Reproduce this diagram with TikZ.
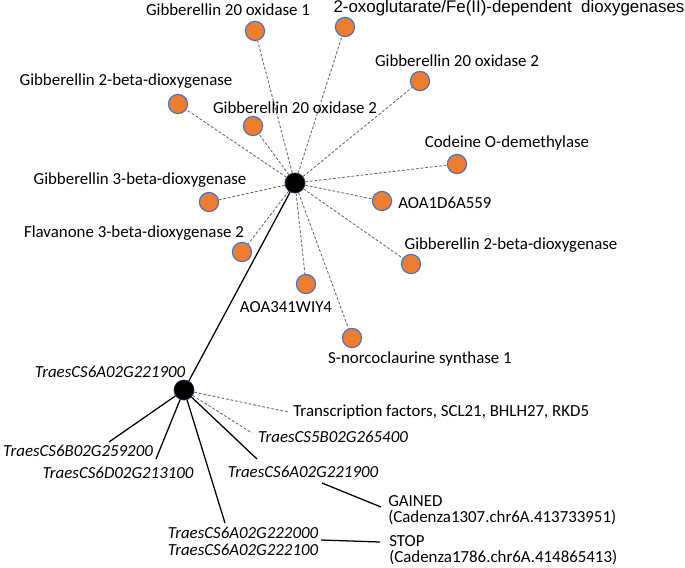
\documentclass[tikz,border=0pt]{standalone}
\usepackage{fontspec}
\setmainfont{Carlito}
\newfontfamily\arialfont{Liberation Sans}
\usepackage{tikz}
\usetikzlibrary{positioning}
\usepackage{xcolor}
\definecolor{dotorange}{HTML}{ED7D31}
\definecolor{dotblue}{HTML}{4472C4}
\tikzset{
  orangedot/.style={circle, fill=dotorange, draw=dotblue, line width=0.8pt, minimum size=0.48cm, inner sep=0pt},
  hubdot/.style={circle, fill=black, draw=dotblue!40!black, line width=0.5pt, minimum size=0.5cm, inner sep=0pt},
  lbl/.style={inner sep=0pt, font=\fontsize{12}{11.5}\selectfont},
  gene/.style={inner sep=0pt, font=\fontsize{12}{12}\selectfont\itshape},
  dashlink/.style={draw=gray!80!black, dash pattern=on 2pt off 1.3pt, line width=0.6pt},
  solidlink/.style={draw=black, line width=0.9pt},
}

\begin{document}
\begin{tikzpicture}[x=0.025cm, y=-0.025cm]
            \useasboundingbox (0,0) rectangle (685,567);
            % the two hubs
            \node[hubdot] (hubA) at (295,183) {};
            \node[hubdot] (hubB) at (184,390) {};
            \draw[solidlink] (hubA) -- (hubB);
            % partners of the upper hub
            \node[orangedot] (oxA) at (255,31) {};
            \node[orangedot] (oxfe) at (345,27) {};
            \node[orangedot] (oxB) at (420,81) {};
            \node[orangedot] (betaA) at (178,104) {};
            \node[orangedot] (oxC) at (253,126) {};
            \node[orangedot] (codeine) at (457,164) {};
            \node[orangedot] (betaC) at (209,202) {};
            \node[orangedot] (aoaA) at (382,201) {};
            \node[orangedot] (flav) at (242,252) {};
            \node[orangedot] (betaB) at (411,264) {};
            \node[orangedot] (aoaB) at (306,284) {};
            \node[orangedot] (snorc) at (352,338) {};
            \foreach \p in {oxA, oxfe, oxB, betaA, oxC, codeine, betaC, aoaA, flav, betaB, aoaB, snorc}
                \draw[dashlink] (hubA) -- (\p);
            \node[lbl] (oxAlbl) at (228,10) {Gibberellin 20 oxidase 1};
            \node[lbl, font=\fontsize{12}{14}\arialfont] (oxfelbl) at (509,8) {2-oxoglutarate/Fe(II)-dependent\ \ dioxygenases};
            \node[lbl] (oxBlbl) at (457,61) {Gibberellin 20 oxidase 2};
            \node[lbl] (betaAlbl) at (126,81) {Gibberellin 2-beta-dioxygenase};
            \node[lbl] (oxClbl) at (295,108) {Gibberellin 20 oxidase 2};
            \node[lbl] (codeinelbl) at (507,143) {Codeine O-demethylase};
            \node[lbl] (betaClbl) at (140,180) {Gibberellin 3-beta-dioxygenase};
            \node[lbl, anchor=west] (aoaAlbl) at (398,203) {AOA1D6A559};
            \node[lbl] (flavlbl) at (134,233) {Flavanone 3-beta-dioxygenase 2};
            \node[lbl] (betaBlbl) at (511,245) {Gibberellin 2-beta-dioxygenase};
            \node[lbl] (aoaBlbl) at (286,307) {AOA341WIY4};
            \node[lbl] (snorclbl) at (420,359) {S-norcoclaurine synthase 1};
            \node[gene] (hubBlbl) at (110,372) {TraesCS6A02G221900};
            % genes around the lower hub
            \coordinate (tfTip) at (288,412);
            \coordinate (bfiveTip) at (252,433);
            \coordinate (bsixTip) at (109,442);
            \coordinate (dsixTip) at (156,459);
            \coordinate (asixTip) at (257,459);
            \coordinate (pairTip) at (225,523);
            \draw[dashlink] (hubB) -- (tfTip);
            \draw[dashlink] (hubB) -- (bfiveTip);
            \foreach \t in {bsixTip, dsixTip, asixTip, pairTip}
                \draw[solidlink] (hubB) -- (\t);
            \node[lbl, anchor=west] (tflbl) at (293,412) {Transcription factors, SCL21, BHLH27, RKD5};
            \node[gene] (bfivelbl) at (333,437) {TraesCS5B02G265400};
            \node[gene] (bsixlbl) at (78,451) {TraesCS6B02G259200};
            \node[gene] (dsixlbl) at (118,473) {TraesCS6D02G213100};
            \node[gene] (asixlbl) at (303,472) {TraesCS6A02G221900};
            \node[gene, align=left] (pairlbl) at (243,541) {TraesCS6A02G222000\\TraesCS6A02G222100};
            % variants
            \node[lbl, anchor=west, align=left] (gainlbl) at (388,510) {GAINED\\(Cadenza1307.chr6A.413733951)};
            \node[lbl, anchor=west, align=left] (stoplbl) at (389,550) {STOP\\(Cadenza1786.chr6A.414865413)};
            \coordinate (gainFoot) at (322,483);
            \coordinate (gainTip) at (381,507);
            \coordinate (stopFoot) at (321,540);
            \coordinate (stopTip) at (380,542);
            \draw[solidlink] (gainFoot) -- (gainTip);
            \draw[solidlink] (stopFoot) -- (stopTip);
        \end{tikzpicture}
\end{document}
